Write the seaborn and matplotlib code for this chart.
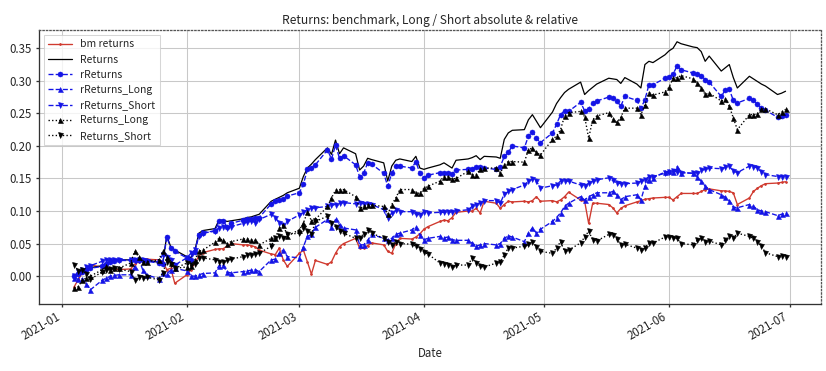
import matplotlib
matplotlib.use("Agg")
import matplotlib.pyplot as plt
import matplotlib.dates as mdates
import pandas as pd
import seaborn as sns

# trading days, Jan 4 .. Jun 30 2021 (weekdays)
dates = pd.bdate_range("2021-01-04", "2021-06-30")

bm_returns = [
    -0.016, -0.005, 0.005, 0.012, 0.017, 0.014, 0.013, 0.012, 0.011, 0.010, 0.011, 0.018, 0.022, 0.025, 0.026, 0.025, 0.022, 0.010, 0.012, -0.011,
    0.002, 0.010, 0.020, 0.031, 0.036, 0.041, 0.042, 0.042, 0.046, 0.050, 0.048, 0.048, 0.047, 0.045, 0.040, 0.034, 0.033, 0.043, 0.025, 0.015,
    0.035, 0.040, 0.022, 0.003, 0.024, 0.018, 0.022, 0.035, 0.045, 0.050, 0.058, 0.043, 0.043, 0.047, 0.051, 0.048, 0.038, 0.035, 0.050, 0.058, 0.057, 0.060, 0.065,
    0.072, 0.076, 0.084, 0.086, 0.085, 0.090, 0.098, 0.100, 0.100, 0.104, 0.097, 0.115, 0.112, 0.104, 0.110, 0.115, 0.114, 0.115, 0.114, 0.116, 0.122, 0.115,
    0.116, 0.114, 0.117, 0.122, 0.129, 0.117, 0.115, 0.081, 0.112, 0.112, 0.110, 0.105, 0.097, 0.104, 0.108, 0.114, 0.116, 0.118, 0.119, 0.120, 0.121,
    0.121, 0.117, 0.122, 0.127, 0.127, 0.127, 0.130, 0.133, 0.134, 0.131, 0.131, 0.130, 0.128, 0.110, 0.120, 0.130, 0.135, 0.139, 0.142, 0.143, 0.144, 0.145,
]
returns = [
    0.000, 0.004, 0.007, 0.010, 0.013, 0.016, 0.020, 0.023, 0.024, 0.025, 0.025, 0.025, 0.026, 0.026, 0.025, 0.021, 0.020, 0.062, 0.045, 0.040,
    0.030, 0.028, 0.040, 0.066, 0.070, 0.073, 0.086, 0.086, 0.084, 0.085, 0.088, 0.090, 0.091, 0.093, 0.095, 0.115, 0.118, 0.121, 0.124, 0.128,
    0.135, 0.153, 0.166, 0.172, 0.179, 0.197, 0.187, 0.209, 0.188, 0.197, 0.188, 0.163, 0.169, 0.181, 0.179, 0.174, 0.146, 0.169, 0.178, 0.180, 0.176, 0.184, 0.166,
    0.164, 0.166, 0.171, 0.174, 0.170, 0.166, 0.178, 0.180, 0.182, 0.185, 0.179, 0.184, 0.183, 0.181, 0.210, 0.220, 0.224, 0.225, 0.240, 0.248, 0.238, 0.228,
    0.252, 0.265, 0.274, 0.282, 0.287, 0.298, 0.279, 0.285, 0.290, 0.295, 0.304, 0.303, 0.302, 0.296, 0.305, 0.295, 0.289, 0.325, 0.330, 0.328, 0.340,
    0.346, 0.350, 0.360, 0.357, 0.352, 0.351, 0.345, 0.330, 0.338, 0.315, 0.320, 0.325, 0.305, 0.289, 0.307, 0.303, 0.299, 0.295, 0.292, 0.279, 0.281, 0.284,
]
r_returns = [
    0.000, 0.003, 0.006, 0.009, 0.012, 0.015, 0.019, 0.022, 0.023, 0.024, 0.024, 0.024, 0.025, 0.025, 0.023, 0.020, 0.018, 0.060, 0.043, 0.038,
    0.028, 0.025, 0.037, 0.063, 0.066, 0.069, 0.084, 0.085, 0.076, 0.081, 0.086, 0.087, 0.087, 0.089, 0.090, 0.111, 0.115, 0.117, 0.118, 0.123,
    0.128, 0.141, 0.164, 0.166, 0.171, 0.194, 0.180, 0.201, 0.181, 0.185, 0.171, 0.153, 0.158, 0.174, 0.172, 0.158, 0.138, 0.158, 0.169, 0.169, 0.166, 0.176, 0.158,
    0.151, 0.155, 0.159, 0.158, 0.159, 0.157, 0.163, 0.164, 0.165, 0.168, 0.167, 0.166, 0.164, 0.168, 0.184, 0.190, 0.200, 0.197, 0.215, 0.222, 0.212, 0.205,
    0.220, 0.233, 0.248, 0.254, 0.253, 0.267, 0.254, 0.257, 0.266, 0.269, 0.275, 0.274, 0.269, 0.261, 0.276, 0.270, 0.258, 0.271, 0.294, 0.294, 0.304,
    0.306, 0.310, 0.323, 0.317, 0.312, 0.311, 0.308, 0.302, 0.298, 0.276, 0.286, 0.287, 0.270, 0.266, 0.273, 0.270, 0.264, 0.258, 0.255, 0.244, 0.246, 0.248,
]
r_returns_long = [
    -0.003, -0.005, -0.004, -0.012, -0.021, -0.006, -0.003, 0.000, 0.001, 0.002, 0.002, 0.014, 0.028, 0.010, 0.002, -0.004, 0.005, 0.004, 0.009, 0.012,
    0.008, 0.000, 0.000, 0.002, 0.004, 0.005, 0.016, 0.017, 0.006, 0.005, 0.007, 0.008, 0.009, 0.010, 0.007, 0.025, 0.026, 0.035, 0.040, 0.030,
    0.028, 0.045, 0.061, 0.064, 0.075, 0.087, 0.076, 0.087, 0.079, 0.074, 0.071, 0.048, 0.048, 0.055, 0.064, 0.058, 0.056, 0.058, 0.064, 0.066, 0.071, 0.076, 0.063,
    0.056, 0.058, 0.061, 0.059, 0.060, 0.056, 0.055, 0.055, 0.051, 0.046, 0.048, 0.050, 0.048, 0.050, 0.058, 0.062, 0.060, 0.053, 0.066, 0.074, 0.066, 0.072,
    0.084, 0.090, 0.097, 0.107, 0.112, 0.122, 0.117, 0.122, 0.125, 0.128, 0.128, 0.130, 0.125, 0.117, 0.122, 0.125, 0.117, 0.138, 0.148, 0.151, 0.160,
    0.161, 0.160, 0.168, 0.159, 0.158, 0.153, 0.146, 0.138, 0.133, 0.125, 0.121, 0.116, 0.106, 0.105, 0.110, 0.107, 0.102, 0.100, 0.099, 0.093, 0.095, 0.097,
]
r_returns_short = [
    0.000, 0.007, 0.010, 0.014, 0.016, 0.023, 0.024, 0.025, 0.025, 0.025, 0.025, 0.024, 0.025, 0.024, 0.023, 0.022, 0.033, 0.030, 0.025, 0.017,
    0.028, 0.035, 0.040, 0.061, 0.066, 0.070, 0.074, 0.076, 0.074, 0.076, 0.081, 0.083, 0.085, 0.082, 0.087, 0.095, 0.090, 0.082, 0.079, 0.084,
    0.094, 0.098, 0.102, 0.104, 0.105, 0.107, 0.109, 0.110, 0.112, 0.113, 0.111, 0.112, 0.111, 0.111, 0.110, 0.102, 0.089, 0.097, 0.101, 0.099, 0.099, 0.095, 0.094,
    0.099, 0.097, 0.098, 0.098, 0.098, 0.099, 0.100, 0.102, 0.107, 0.110, 0.113, 0.116, 0.116, 0.112, 0.126, 0.130, 0.133, 0.140, 0.146, 0.149, 0.146, 0.135,
    0.139, 0.140, 0.146, 0.146, 0.146, 0.140, 0.138, 0.143, 0.146, 0.148, 0.151, 0.147, 0.143, 0.142, 0.142, 0.143, 0.146, 0.148, 0.153, 0.153, 0.158,
    0.160, 0.161, 0.160, 0.159, 0.158, 0.159, 0.163, 0.164, 0.166, 0.165, 0.167, 0.169, 0.161, 0.159, 0.169, 0.168, 0.166, 0.160, 0.156, 0.153, 0.153, 0.153,
]
returns_long = [
    -0.019, -0.016, -0.006, -0.003, 0.000, 0.010, 0.015, 0.010, 0.012, 0.012, 0.020, 0.038, 0.030, 0.022, 0.022, 0.025, 0.038, 0.030, 0.020, 0.012,
    0.014, 0.016, 0.025, 0.038, 0.040, 0.052, 0.058, 0.055, 0.050, 0.053, 0.057, 0.057, 0.056, 0.055, 0.048, 0.058, 0.058, 0.074, 0.079, 0.062,
    0.071, 0.081, 0.099, 0.085, 0.087, 0.107, 0.120, 0.132, 0.133, 0.133, 0.122, 0.104, 0.107, 0.110, 0.109, 0.107, 0.095, 0.110, 0.120, 0.133, 0.133, 0.128, 0.127,
    0.135, 0.138, 0.146, 0.153, 0.153, 0.149, 0.150, 0.161, 0.156, 0.156, 0.164, 0.166, 0.166, 0.158, 0.171, 0.176, 0.176, 0.175, 0.194, 0.197, 0.190, 0.186,
    0.210, 0.215, 0.225, 0.246, 0.251, 0.253, 0.245, 0.212, 0.240, 0.246, 0.251, 0.241, 0.236, 0.244, 0.258, 0.258, 0.248, 0.263, 0.282, 0.278, 0.283,
    0.290, 0.304, 0.305, 0.308, 0.303, 0.297, 0.289, 0.279, 0.281, 0.269, 0.272, 0.261, 0.243, 0.225, 0.248, 0.248, 0.249, 0.257, 0.257, 0.248, 0.252, 0.256,
]
returns_short = [
    0.017, 0.008, 0.010, 0.003, -0.005, 0.007, 0.010, 0.011, 0.012, 0.011, 0.007, -0.006, -0.002, -0.003, -0.001, -0.006, 0.005, 0.022, 0.018, 0.012,
    0.020, 0.017, 0.018, 0.028, 0.028, 0.025, 0.022, 0.022, 0.024, 0.026, 0.030, 0.033, 0.033, 0.034, 0.035, 0.046, 0.058, 0.062, 0.058, 0.064,
    0.066, 0.074, 0.070, 0.064, 0.084, 0.092, 0.081, 0.076, 0.069, 0.066, 0.058, 0.058, 0.065, 0.071, 0.066, 0.058, 0.052, 0.048, 0.053, 0.050, 0.049, 0.046, 0.042,
    0.037, 0.034, 0.020, 0.019, 0.017, 0.014, 0.017, 0.017, 0.028, 0.020, 0.015, 0.014, 0.020, 0.021, 0.033, 0.043, 0.043, 0.046, 0.049, 0.053, 0.045, 0.038,
    0.035, 0.043, 0.053, 0.038, 0.040, 0.051, 0.060, 0.069, 0.056, 0.054, 0.064, 0.063, 0.057, 0.048, 0.049, 0.043, 0.040, 0.043, 0.051, 0.051, 0.060,
    0.060, 0.059, 0.058, 0.050, 0.048, 0.055, 0.058, 0.053, 0.054, 0.048, 0.056, 0.061, 0.058, 0.066, 0.061, 0.058, 0.053, 0.046, 0.036, 0.030, 0.031, 0.029,
]

red = "#d03a2f"
blue = "#1414e6"
series = [
    ("bm returns", bm_returns, dict(color=red, ls="-", marker=".", ms=3.5, lw=1.3, mec=red)),
    ("Returns", returns, dict(color="black", ls="-", marker=None, lw=1.2)),
    ("rReturns", r_returns, dict(color=blue, ls="--", marker="o", ms=4.8, lw=1.3, mec=blue, mew=0.5)),
    ("rReturns_Long", r_returns_long, dict(color=blue, ls="--", marker="^", ms=4.8, lw=1.3, mec=blue, mew=0.5)),
    ("rReturns_Short", r_returns_short, dict(color=blue, ls="--", marker="v", ms=4.8, lw=1.3, mec=blue, mew=0.5)),
    ("Returns_Long", returns_long, dict(color="black", ls=":", marker="^", ms=4.8, lw=1.3, mec="black", mew=0.5)),
    ("Returns_Short", returns_short, dict(color="black", ls=":", marker="v", ms=4.8, lw=1.3, mec="black", mew=0.5)),
]

sns.set_theme(style="whitegrid")
plt.rcParams["font.family"] = ["Noto Sans CJK SC", "DejaVu Sans"]

fig, ax = plt.subplots(figsize=(826 / 75, 371 / 75), dpi=75)
fig.subplots_adjust(left=0.047, right=0.994, bottom=0.181, top=0.919)

for name, vals, kw in series:
    df = pd.DataFrame({"Date": dates, "value": vals})
    sns.lineplot(data=df, x="Date", y="value", ax=ax, label=name, **kw)

ax.set_xlim(pd.Timestamp("2020-12-26 04:00"), pd.Timestamp("2021-07-08 20:00"))
ax.set_ylim(-0.0426, 0.378)
ax.set_yticks([0.0, 0.05, 0.10, 0.15, 0.20, 0.25, 0.30, 0.35])
ax.yaxis.set_major_formatter(matplotlib.ticker.FormatStrFormatter("%.2f"))
ax.xaxis.set_major_locator(mdates.MonthLocator())
ax.xaxis.set_major_formatter(mdates.DateFormatter("%Y-%m"))
for lbl in ax.get_xticklabels():
    lbl.set_rotation(30)
    lbl.set_ha("right")

ax.grid(True, color="#c8c8c8", lw=1)
ax.tick_params(axis="both", labelsize=11, length=3, color="#333333", bottom=True, left=True)
for side in ["left", "bottom"]:
    ax.spines[side].set_color("#333333")
for side in ["top", "right"]:
    ax.spines[side].set_color("#555555")
    ax.spines[side].set_linestyle(":")

ax.set_title("Returns: benchmark, Long / Short absolute & relative", fontsize=11.5)
ax.set_xlabel("Date", fontsize=11)
ax.set_ylabel("")
ax.legend(loc="upper left", fontsize=10, frameon=True, fancybox=False,
          edgecolor="#cccccc", handlelength=2.3, labelspacing=0.5, borderpad=0.4)

plt.savefig("out.png", dpi=75)
plt.close()
